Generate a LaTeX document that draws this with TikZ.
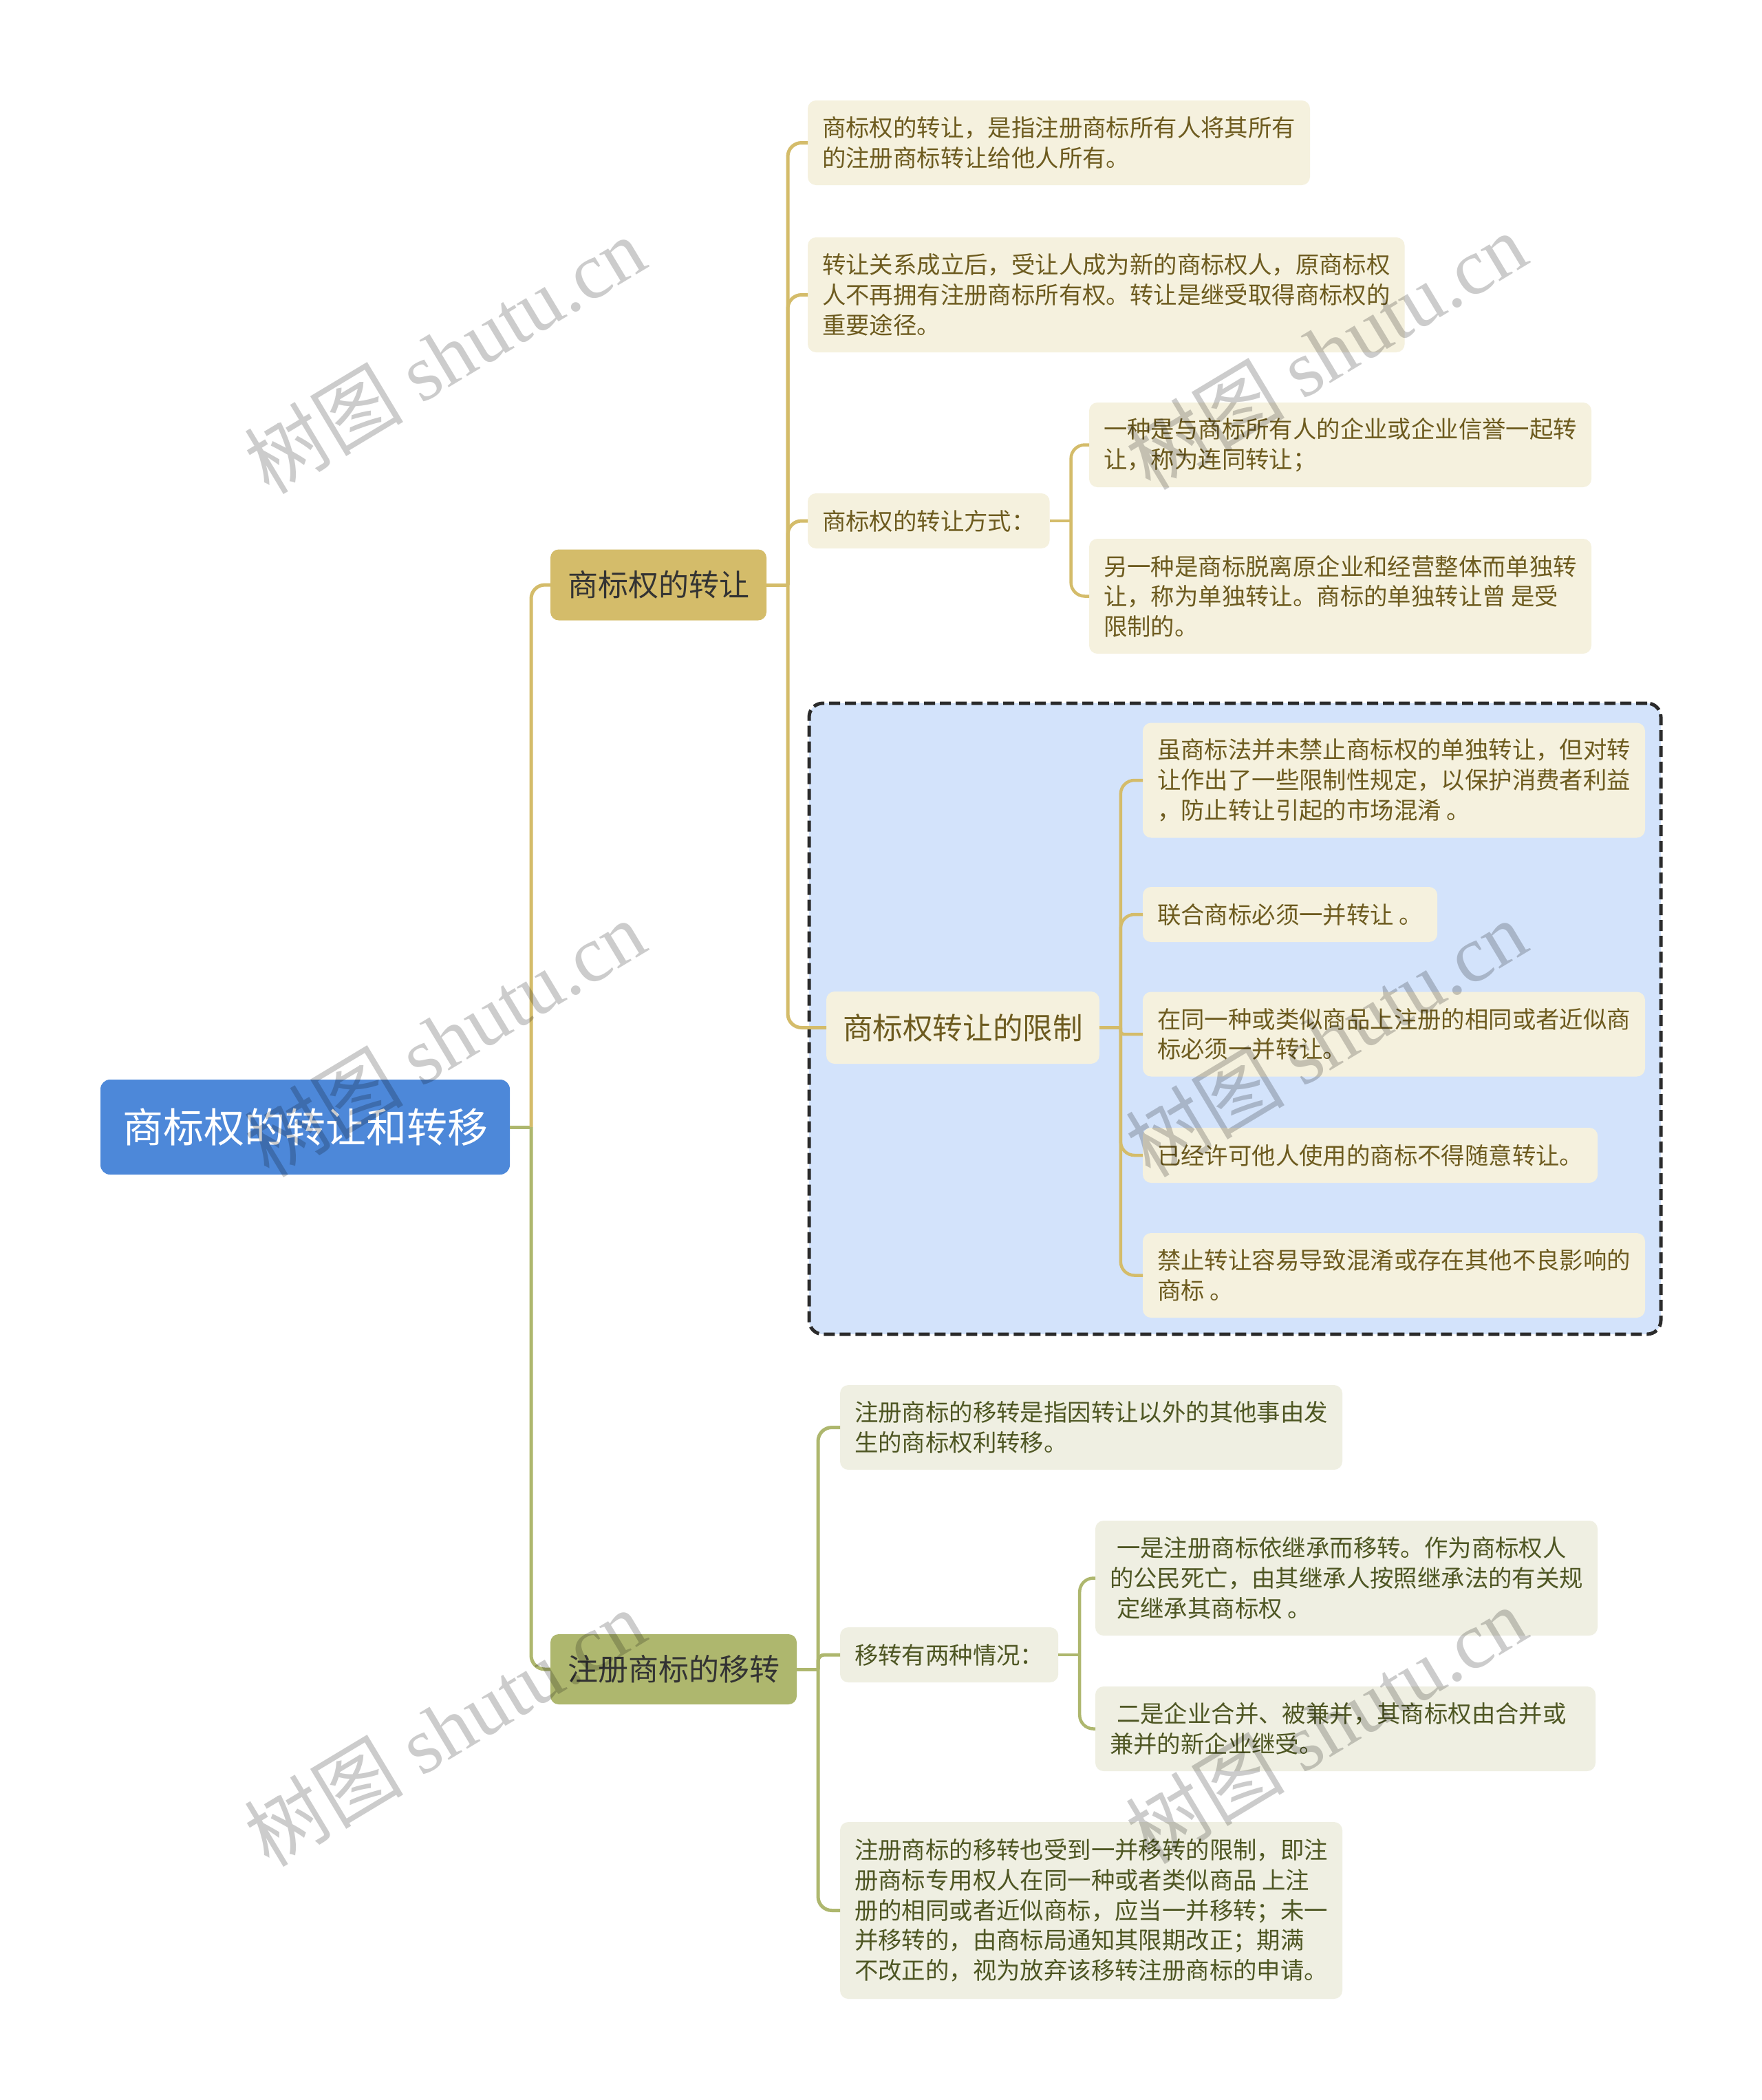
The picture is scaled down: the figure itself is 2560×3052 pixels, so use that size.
\documentclass[tikz,border=0pt]{standalone}
\usepackage{fontspec}
\setmainfont{Noto Sans CJK SC}
\newfontfamily\wmlatin{Liberation Serif}
\usetikzlibrary{calc}
\definecolor{rootblue}{RGB}{77,136,217}
\definecolor{gold}{RGB}{212,188,106}
\definecolor{olive}{RGB}{174,183,110}
\definecolor{goldfill}{RGB}{245,241,222}
\definecolor{olivefill}{RGB}{239,239,226}
\definecolor{goldtext}{RGB}{109,91,31}
\definecolor{olivetext}{RGB}{78,86,35}
\definecolor{limitfill}{RGB}{211,227,251}
\definecolor{dashcol}{RGB}{43,43,43}
\begin{document}
\begin{tikzpicture}[x=1pt,y=-1pt,
 every node/.style={inner ysep=0pt, outer sep=0pt},
 rootbox/.style={fill=rootblue, text=white, rounded corners=14pt, font=\fontsize{59}{70}\selectfont, inner xsep=32pt, minimum height=138pt, anchor=west},
 topicg/.style={fill=gold, text=black!80, rounded corners=12pt, font=\fontsize{44}{52}\selectfont, inner xsep=25pt, minimum height=103pt, anchor=west},
 topico/.style={fill=olive, text=black!80, rounded corners=12pt, font=\fontsize{44}{52}\selectfont, inner xsep=25pt, minimum height=102pt, anchor=west},
 limitbox/.style={fill=goldfill, text=goldtext, rounded corners=12pt, font=\fontsize{43.6}{52}\selectfont, inner xsep=24pt, minimum height=105pt, anchor=west},
 leafg/.style={fill=goldfill, text=goldtext, rounded corners=12pt, font=\fontsize{34.4}{43.7}\selectfont, inner xsep=21pt, align=left, anchor=west},
 leafo/.style={fill=olivefill, text=olivetext, rounded corners=12pt, font=\fontsize{34.4}{43.7}\selectfont, inner xsep=21pt, align=left, anchor=west},
 lone/.style={minimum height=80pt}, ltwo/.style={minimum height=123pt},
 lthree/.style={minimum height=167pt}, lfive/.style={minimum height=257pt},
 cg/.style={draw=gold, line width=5pt, rounded corners=20pt},
 co/.style={draw=olive, line width=5pt, rounded corners=20pt},
 wm/.style={text=black, opacity=0.2, rotate=31, font=\fontsize{116}{116}\selectfont}
]
\fill[white] (0,0) rectangle (2560,3052);
\useasboundingbox (0,0) rectangle (2560,3052);

% dashed container
\node[draw=dashcol, fill=limitfill, line width=5pt, dash pattern=on 16pt off 7pt, rounded corners=20pt,
  minimum width=1238pt, minimum height=917pt, anchor=north west, inner sep=0pt] (limitarea) at (1176,1022) {};

% root and main topics
\node[rootbox] (root) at (146,1638) {商标权的转让和转移};
\node[topicg] (t) at (800,850) {商标权的转让};
\node[topico] (m) at (800,2426) {注册商标的移转};

% branch 1 children
\node[leafg, ltwo] (a1) at (1174,207.5) {商标权的转让，是指注册商标所有人将其所有\\的注册商标转让给他人所有。};
\node[leafg, lthree] (a2) at (1174,428.5) {转让关系成立后，受让人成为新的商标权人，原商标权\\人不再拥有注册商标所有权。转让是继受取得商标权的\\重要途径。};
\node[leafg, lone] (a3) at (1174,757) {商标权的转让方式：};
\node[leafg, ltwo] (a3a) at (1583,646.5) {一种是与商标所有人的企业或企业信誉一起转\\让，称为连同转让；};
\node[leafg, lthree] (a3b) at (1583,866.5) {另一种是商标脱离原企业和经营整体而单独转\\让，称为单独转让。商标的单独转让曾 是受\\限制的。};
\node[limitbox] (a4) at (1201,1493.5) {商标权转让的限制};
\node[leafg, lthree] (a4a) at (1661,1134) {虽商标法并未禁止商标权的单独转让，但对转\\让作出了一些限制性规定，以保护消费者利益\\，防止转让引起的市场混淆 。};
\node[leafg, lone] (a4b) at (1661,1329) {联合商标必须一并转让 。};
\node[leafg, ltwo] (a4c) at (1661,1503) {在同一种或类似商品上注册的相同或者近似商\\标必须一并转让。};
\node[leafg, lone] (a4d) at (1661,1679) {已经许可他人使用的商标不得随意转让。};
\node[leafg, ltwo] (a4e) at (1661,1853.5) {禁止转让容易导致混淆或存在其他不良影响的\\商标 。};

% branch 2 children
\node[leafo, ltwo] (b1) at (1221,2074.5) {注册商标的移转是指因转让以外的其他事由发\\生的商标权利转移。};
\node[leafo, lone] (b2) at (1221,2405) {移转有两种情况：};
\node[leafo, lthree] (b2a) at (1592,2293.5) {\hspace*{10pt}一是注册商标依继承而移转。作为商标权人\\的公民死亡，由其继承人按照继承法的有关规\\\hspace*{10pt}定继承其商标权 。};
\node[leafo, ltwo, text width=685pt] (b2b) at (1592,2512.5) {\hspace*{10pt}二是企业合并、被兼并，其商标权由合并或\\兼并的新企业继受。};
\node[leafo, lfive] (b3) at (1221,2776.5) {注册商标的移转也受到一并移转的限制，即注\\册商标专用权人在同一种或者类似商品 上注\\册的相同或者近似商标，应当一并移转；未一\\并移转的，由商标局通知其限期改正；期满\\不改正的，视为放弃该移转注册商标的申请。};

% connectors
\coordinate (rj) at ($(root.east)+(31,0)$);
\draw[co] (root.east) -- (rj);
\draw[cg] (rj) |- (t.west);
\draw[co] (rj) |- (m.west);

\coordinate (tj) at ($(t.east)+(31,0)$);
\draw[cg] (t.east) -- (tj);
\foreach \c in {a1,a2,a3,a4} \draw[cg] (tj) |- (\c.west);

\coordinate (a3j) at ($(a3.east)+(31,0)$);
\draw[cg, line width=4.5pt] (a3.east) -- (a3j);
\foreach \c in {a3a,a3b} \draw[cg, line width=4.5pt] (a3j) |- (\c.west);

\coordinate (a4j) at ($(a4.east)+(31,0)$);
\draw[cg, line width=4.5pt] (a4.east) -- (a4j);
\foreach \c in {a4a,a4b,a4d,a4e} \draw[cg, line width=4.5pt] (a4j) |- (\c.west);
\draw[cg, line width=4.5pt, rounded corners=4pt] (a4j) |- (a4c.west);

\coordinate (mj) at ($(m.east)+(31,0)$);
\draw[co] (m.east) -- (mj);
\foreach \c in {b1,b3} \draw[co] (mj) |- (\c.west);
\draw[co, rounded corners=9pt] (mj) |- (b2.west);

\coordinate (b2j) at ($(b2.east)+(31,0)$);
\draw[co, line width=4.5pt] (b2.east) -- (b2j);
\foreach \c in {b2a,b2b} \draw[co, line width=4.5pt] (b2j) |- (\c.west);

% watermarks
\node[wm] (w1) at (646,516) {树图 {\wmlatin shutu.cn}};
\node[wm] (w2) at (1927,510) {树图 {\wmlatin shutu.cn}};
\node[wm] (w3) at (646,1509) {树图 {\wmlatin shutu.cn}};
\node[wm] (w4) at (1927,1509) {树图 {\wmlatin shutu.cn}};
\node[wm] (w5) at (646,2511) {树图 {\wmlatin shutu.cn}};
\node[wm] (w6) at (1927,2507) {树图 {\wmlatin shutu.cn}};
\end{tikzpicture}
\end{document}
